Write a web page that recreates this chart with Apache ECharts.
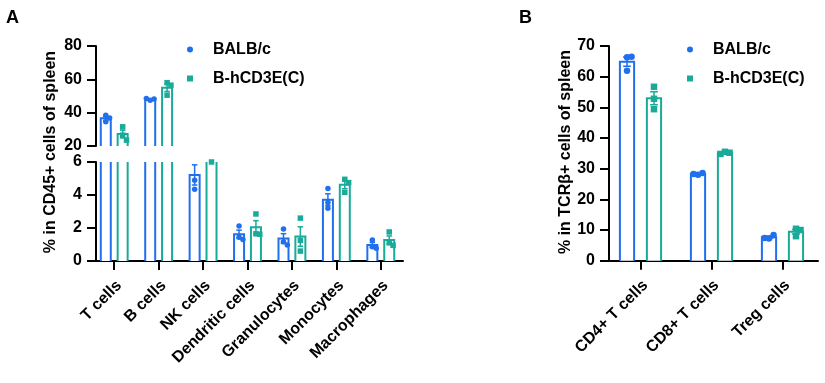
<!DOCTYPE html>
<html><head><meta charset="utf-8">
<script src="https://cdn.jsdelivr.net/npm/echarts@6/dist/echarts.min.js"></script>
<style>html,body{margin:0;padding:0;background:#fff}#c{width:825px;height:383px}</style>
</head><body><div id="c"></div>
<script>
// ---------- data ----------
const categoriesA = ['T cells','B cells','NK cells','Dendritic cells','Granulocytes','Monocytes','Macrophages'];
const balbA = [
  [38.5, 36.8, 34.5],
  [47.4, 48.2, 48.5],
  [4.9, 4.35, 6.4],
  [2.12, 1.44, 1.3],
  [1.94, 1.17, 0.97],
  [4.4, 3.55, 3.2],
  [1.27, 0.87, 0.77]
];
const cd3eA = [
  [31.5, 26.5, 23.5],
  [58.0, 56.5, 50.5],
  [6.0, 6.9, 7.6],
  [2.85, 1.65, 1.62],
  [2.6, 1.25, 0.6],
  [4.95, 4.75, 4.16],
  [1.76, 1.1, 0.95]
];
const ticksALower = [0, 2, 4, 6];
const ticksAUpper = [20, 40, 60, 80];

const categoriesB = ['CD4+ T cells','CD8+ T cells','Treg cells'];
const balbB = [
  [66.3, 66.5, 61.9],
  [28.0, 28.6, 28.3],
  [7.2, 8.4, 7.4]
];
const cd3eB = [
  [56.7, 52.8, 49.4],
  [35.5, 35.2, 34.8],
  [10.4, 10.0, 8.0]
];
const ticksB = [0, 10, 20, 30, 40, 50, 60, 70];

const groupNames = ['BALB/c', 'B-hCD3E(C)'];

// ---------- style ----------
const BLUE = '#2070EE';
const TEAL = '#19AA99';
const FONT = '"Liberation Sans", Arial, sans-serif';

function mean(a){ return a.reduce((s,v)=>s+v,0)/a.length; }
function sem(a){ const m=mean(a); const v=a.reduce((s,x)=>s+(x-m)*(x-m),0)/(a.length-1); return Math.sqrt(v/a.length); }

function makeRender(pointsArr, side, barFrac, symbol, symSize){
  return function(params, api){
    const cs = params.coordSys;
    const top = cs.y, bottom = cs.y + cs.height;
    const i = api.value(0);
    const band = api.size([1, 0])[0];
    const pts = pointsArr[i];
    const m = mean(pts), s = sem(pts);
    const color = api.visual('color');
    const cx = api.coord([i, m])[0] + side * 0.19 * band;
    const bw = barFrac * band;
    const yTop = api.coord([i, m])[1];
    const baseY = Math.min(api.coord([i, 0])[1], bottom);
    const children = [];
    const clampedTop = Math.max(yTop, top);
    if (clampedTop < baseY) {
      children.push({type:'rect', shape:{x:cx-bw/2, y:clampedTop, width:bw, height:baseY-clampedTop}, style:{fill:'#fff'}});
      if (yTop >= top) {
        children.push({type:'polyline', shape:{points:[[cx-bw/2, baseY],[cx-bw/2, yTop],[cx+bw/2, yTop],[cx+bw/2, baseY]]}, style:{stroke:color, lineWidth:2, fill:null}});
      } else {
        children.push({type:'line', shape:{x1:cx-bw/2, y1:top, x2:cx-bw/2, y2:baseY}, style:{stroke:color, lineWidth:2}});
        children.push({type:'line', shape:{x1:cx+bw/2, y1:top, x2:cx+bw/2, y2:baseY}, style:{stroke:color, lineWidth:2}});
      }
    }
    // error bar (mean ± SEM)
    const yHi = api.coord([i, m + s])[1];
    const yLo = api.coord([i, m - s])[1];
    const capW = bw * 0.55;
    const e1 = Math.max(yHi, top), e2 = Math.min(yLo, bottom);
    if (e1 < e2) {
      children.push({type:'line', shape:{x1:cx, y1:e1, x2:cx, y2:e2}, style:{stroke:color, lineWidth:1.5}});
      if (yHi >= top && yHi <= bottom) children.push({type:'line', shape:{x1:cx-capW/2, y1:yHi, x2:cx+capW/2, y2:yHi}, style:{stroke:color, lineWidth:1.5}});
      if (yLo >= top && yLo <= bottom) children.push({type:'line', shape:{x1:cx-capW/2, y1:yLo, x2:cx+capW/2, y2:yLo}, style:{stroke:color, lineWidth:1.5}});
    }
    // individual points (simple beeswarm)
    const placed = [];
    const d = symSize;
    pts.forEach(v => {
      const py = api.coord([i, v])[1];
      const cands = [0, d, -d, 2*d, -2*d];
      let dx = 0;
      for (const c of cands) {
        if (!placed.some(p => Math.abs(p[0]-c) < d*0.95 && Math.abs(p[1]-py) < d*0.95)) { dx = c; break; }
      }
      placed.push([dx, py]);
      if (py < top - 1 || py > bottom + 1) return;
      const px = cx + dx * 0.7;
      if (symbol === 'circle') {
        children.push({type:'circle', shape:{cx:px, cy:py, r:symSize/2}, style:{fill:color}});
      } else {
        children.push({type:'rect', shape:{x:px-symSize/2, y:py-symSize/2, width:symSize, height:symSize}, style:{fill:color}});
      }
    });
    return {type:'group', children};
  };
}

const axisLineStyle = {show:true, lineStyle:{color:'#000', width:2}};
const tickStyle = {show:true, length:9, lineStyle:{color:'#000', width:2}};
const labelFont = {color:'#000', fontSize:16, fontWeight:'bold', fontFamily:FONT};

function yAxisCfg(grid, min, max, interval){
  return {type:'value', gridIndex:grid, min, max, interval, offset:-4,
    axisLine:axisLineStyle, axisTick:tickStyle, splitLine:{show:false},
    axisLabel:Object.assign({margin:14}, labelFont)};
}
function xAxisCfg(grid, cats, show){
  return {type:'category', gridIndex:grid, data:cats, boundaryGap:true, show:show,
    axisLine:axisLineStyle, axisTick:Object.assign({alignWithLabel:true}, tickStyle),
    axisLabel:Object.assign({rotate:45, interval:0, margin:27, padding:[0,-7,0,0]}, labelFont)};
}
function seriesCfg(name, color, x, y, pts, side, frac, sym, size, cats){
  return {type:'custom', name, xAxisIndex:x, yAxisIndex:y, itemStyle:{color},
    renderItem:makeRender(pts, side, frac, sym, size),
    data:cats.map((c, i) => [i, mean(pts[i])]), animation:false};
}
function legendCfg(left){
  return {orient:'vertical', left, top:39.5, padding:0, itemGap:9, itemWidth:6, itemHeight:6,
    selectedMode:false,
    textStyle:{color:'#000', fontSize:16, fontWeight:'bold', fontFamily:FONT, lineHeight:20, padding:[0,0,0,15]},
    data:[{name:groupNames[0], icon:'circle'}, {name:groupNames[1], icon:'rect'}]};
}

const chart = echarts.init(document.getElementById('c'));
chart.setOption({
  animation:false,
  backgroundColor:'#fff',
  grid:[
    {left:92, width:311, top:162, height:99},
    {left:92, width:311, top:46, height:100},
    {left:605, width:213, top:46, height:214.7}
  ],
  xAxis:[
    xAxisCfg(0, categoriesA, true),
    xAxisCfg(1, categoriesA, false),
    xAxisCfg(2, categoriesB, true)
  ],
  yAxis:[
    yAxisCfg(0, ticksALower[0], ticksALower[ticksALower.length-1], 2),
    yAxisCfg(1, ticksAUpper[0], ticksAUpper[ticksAUpper.length-1], 20),
    yAxisCfg(2, ticksB[0], ticksB[ticksB.length-1], 10)
  ],
  legend:[legendCfg(187), legendCfg(687)],
  series:[
    seriesCfg(groupNames[0], BLUE, 0, 0, balbA, -1, 0.225, 'circle', 5.5, categoriesA),
    seriesCfg(groupNames[1], TEAL, 0, 0, cd3eA, 1, 0.225, 'rect', 5.5, categoriesA),
    seriesCfg(groupNames[0], BLUE, 1, 1, balbA, -1, 0.225, 'circle', 5.5, categoriesA),
    seriesCfg(groupNames[1], TEAL, 1, 1, cd3eA, 1, 0.225, 'rect', 5.5, categoriesA),
    seriesCfg(groupNames[0], BLUE, 2, 2, balbB, -1, 0.2, 'circle', 6.5, categoriesB),
    seriesCfg(groupNames[1], TEAL, 2, 2, cd3eB, 1, 0.2, 'rect', 6.5, categoriesB)
  ],
  graphic:[
    {type:'text', x:6, y:9, style:{text:'A', fill:'#000', fontSize:18, fontWeight:'bold', fontFamily:FONT}},
    {type:'text', x:519, y:9, style:{text:'B', fill:'#000', fontSize:18, fontWeight:'bold', fontFamily:FONT}},
    {type:'text', x:51, y:152, rotation:Math.PI/2, style:{text:'% in CD45+ cells of spleen', fill:'#000', fontSize:16, fontWeight:'bold', fontFamily:FONT, align:'center', verticalAlign:'middle'}},
    {type:'text', x:566, y:152, rotation:Math.PI/2, style:{text:'% in TCRβ+ cells of spleen', fill:'#000', fontSize:16, fontWeight:'bold', fontFamily:FONT, align:'center', verticalAlign:'middle'}}
  ]
});
</script>
</body></html>
